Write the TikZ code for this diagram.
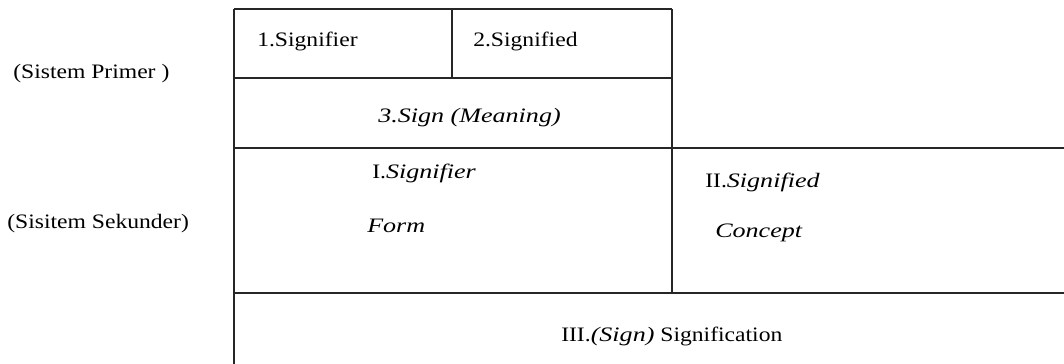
\documentclass[tikz,border=0pt]{standalone}
\usepackage{fontspec}
\setmainfont[FakeStretch=1.15,ItalicFeatures={FakeStretch=1.27}]{Liberation Serif}
\begin{document}
\begin{tikzpicture}[x=0.75pt,y=-0.75pt,
  rule/.style={line width=1.2pt,draw=black!85},
  lbl/.style={anchor=base west,inner sep=0pt,font=\fontsize{15.4pt}{18pt}\selectfont}]
\useasboundingbox (0,0) rectangle (1064,364);
% grid coordinates
\coordinate (tl) at (234,9);
\coordinate (tm) at (452,9);
\coordinate (tr) at (672,9);
\coordinate (ml) at (234,78);
\coordinate (mm) at (452,78);
\coordinate (mr) at (672,78);
\coordinate (l2) at (234,148);
\coordinate (r2) at (1064,148);
\coordinate (l3) at (234,293);
\coordinate (c3) at (672,293);
\coordinate (r3) at (1064,293);
\coordinate (bl) at (234,364);
% rules
\draw[rule] (tl) -- (tr);
\draw[rule] (tl) -- (bl);
\draw[rule] (tm) -- (mm);
\draw[rule] (ml) -- (mr);
\draw[rule] (tr) -- (c3);
\draw[rule] (l2) -- (r2);
\draw[rule] (l3) -- (r3);
% labels
\node[lbl] (prim) at (13,78) {(Sistem Primer )};
\node[lbl] (sek) at (7,228) {(Sisitem Sekunder)};
\node[lbl] (s1) at (257,46.5) {1.Signifier};
\node[lbl] (s2) at (473,46) {2.Signified};
\node[lbl] (s3) at (378,122) {\textit{3.Sign (Meaning)}};
\node[lbl] (sI) at (372,178) {I.\textit{Signifier}};
\node[lbl] (form) at (367,232) {\textit{Form}};
\node[lbl] (sII) at (705,187) {II.\textit{Signified}};
\node[lbl] (concept) at (715,237) {\textit{Concept}};
\node[lbl] (sIII) at (561,341) {III.\textit{(Sign)} Signification};
\end{tikzpicture}
\end{document}
